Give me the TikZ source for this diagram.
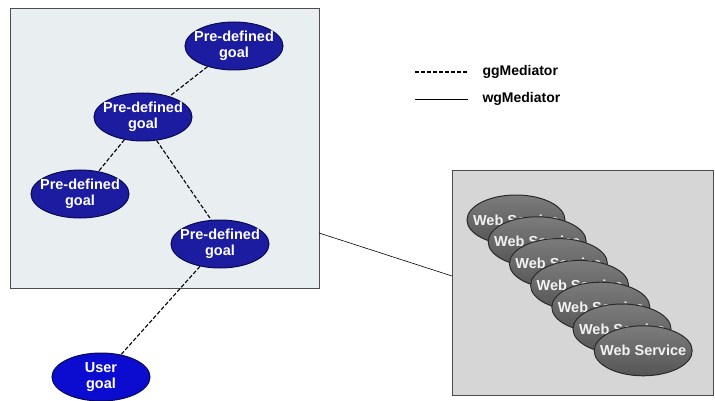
\documentclass[tikz,border=0pt]{standalone}
\usepackage{fontspec}
\setmainfont{Liberation Sans}
\usetikzlibrary{shapes.geometric}
\definecolor{goalblue}{HTML}{1C1CA0}
\definecolor{userblue}{HTML}{0C0CD0}
\definecolor{goalborder}{HTML}{0A0A50}
\definecolor{wstop}{HTML}{7C7C7C}
\definecolor{wsbottom}{HTML}{555555}
\definecolor{wsborder}{HTML}{2A2A2A}
\definecolor{leftbg}{HTML}{E9EFF1}
\definecolor{rightbg}{HTML}{D6D6D6}
\begin{document}
\begin{tikzpicture}[x=1pt,y=-1pt,
  goal/.style={ellipse,draw=goalborder,line width=1pt,fill=goalblue,minimum width=98pt,minimum height=48pt,
    inner xsep=-7pt,inner ysep=0pt,
    text=white,font=\bfseries\fontsize{14.5}{16.5}\selectfont,align=center},
  usergoal/.style={goal,fill=userblue},
  ws/.style={ellipse,draw=wsborder,line width=1pt,top color=wstop,bottom color=wsbottom,minimum width=98pt,minimum height=50pt,
    inner xsep=-12pt,inner ysep=0pt,
    text=white!90!gray,font=\bfseries\fontsize{14.5}{16}\selectfont},
  panel/.style={draw=black!70,line width=0.8pt},
  gg/.style={line width=1.1pt,dash pattern=on 4pt off 2pt},
  wg/.style={line width=0.6pt},
  legend/.style={anchor=west,font=\bfseries\fontsize{14}{16}\selectfont}]
\useasboundingbox (0,0) rectangle (715,401);
\fill[white] (0,0) rectangle (715,401);
% panels
\draw[panel,fill=leftbg] (10,8) rectangle (319,288);
\draw[panel,fill=rightbg] (452,170) rectangle (713,395);
\coordinate (lb) at (319,233);
\coordinate (rb) at (452,276);
\draw[wg] (lb) -- (rb);
% goals
\node[goal] (g1) at (234,46) {Pre-defined\\goal};
\node[goal] (g2) at (143,117) {Pre-defined\\goal};
\node[goal] (g3) at (80,194) {Pre-defined\\goal};
\node[goal] (g4) at (220,244) {Pre-defined\\goal};
\node[usergoal] (u) at (101,377) {User\\goal};
\draw[gg] (g1) -- (g2);
\draw[gg] (g2) -- (g3);
\draw[gg] (g2.300) -- (g4.110);
\draw[gg] (g4) -- (u);
% web services
\foreach \i in {0,...,6}{
  \node[ws] (ws\i) at ({516+21.2*\i},{220+21.8*\i}) {Web Service};
}
% legend
\coordinate (l1a) at (415,72);
\coordinate (l1b) at (468,72);
\coordinate (l2a) at (415,99);
\coordinate (l2b) at (468,99);
\draw[gg] (l1a) -- (l1b);
\draw[wg] (l2a) -- (l2b);
\node[legend] (t1) at (479,72) {ggMediator};
\node[legend] (t2) at (479,99) {wgMediator};
\end{tikzpicture}
\end{document}
